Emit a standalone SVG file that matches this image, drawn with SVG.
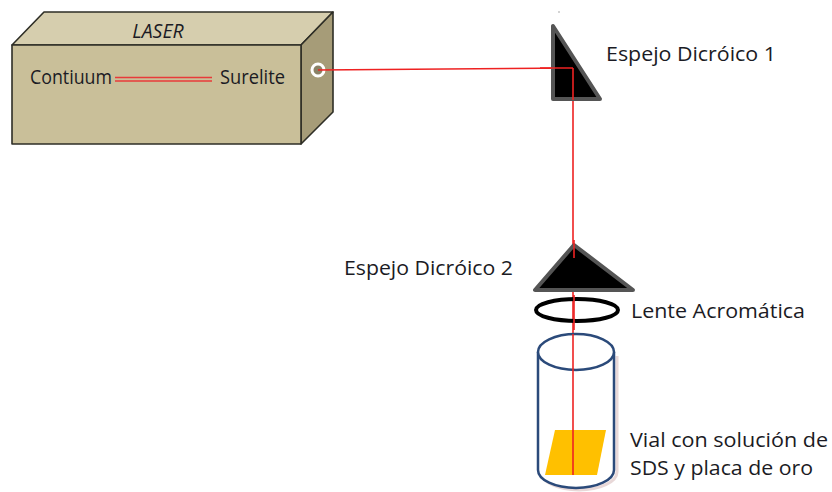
<svg xmlns="http://www.w3.org/2000/svg" width="832" height="492" viewBox="0 0 832 492">
  <style>
    .lbl { font-family: "Open Sans", "Liberation Sans", sans-serif; font-size: 19.5px; fill: #1b1b24; }
    .box { stroke: #2e2e26; stroke-width: 1.6; stroke-linejoin: round; }
    .mirror { fill: #000; stroke: #555; stroke-width: 4; stroke-linejoin: round; }
    .beam { stroke: #ee2222; stroke-width: 1.6; fill: none; }
  </style>
  <rect width="832" height="492" fill="#fff"/>

  <!-- laser head -->
  <g id="laser">
    <polygon class="box" points="12,45 44,12 333,12 301,45" fill="#D6CEAE"/>
    <polygon class="box" points="301,45 333,12 333,112 301,144" fill="#A69C78"/>
    <rect class="box" x="12" y="45" width="289" height="99" fill="#C9BF99"/>
    <text class="lbl" x="158" y="37.5" text-anchor="middle" font-size="15" font-style="italic">LASER</text>
    <text class="lbl" x="30" y="84" font-size="16.5" textLength="82" lengthAdjust="spacingAndGlyphs">Contiuum</text>
    <text class="lbl" x="220" y="84" font-size="16.5" textLength="65" lengthAdjust="spacingAndGlyphs">Surelite</text>
    <line x1="115" y1="77.5" x2="212" y2="77.5" stroke="#e83a3a" stroke-width="1.6"/>
    <line x1="115" y1="81" x2="212" y2="81" stroke="#e83a3a" stroke-width="1.6"/>
    <circle cx="318" cy="70" r="6" fill="#8a8266" stroke="#fff" stroke-width="3"/>
  </g>

  <!-- beam path -->
  <g id="beams">
    <polyline class="beam" points="318,70 573,68 573,475"/>
  </g>

  <!-- first dichroic mirror -->
  <g id="mirror1">
    <polygon class="mirror" points="553,26 553,99 600,99"/>
    <line class="beam" x1="540" y1="68" x2="573" y2="68"/>
    <line class="beam" x1="573" y1="68" x2="573" y2="100"/>
    <text class="lbl" x="606" y="61" textLength="170" lengthAdjust="spacingAndGlyphs">Espejo Dicróico 1</text>
    <circle cx="559" cy="12" r="0.7" fill="#888"/>
  </g>

  <!-- second dichroic mirror -->
  <g id="mirror2">
    <polygon class="mirror" points="574,245 535,290 633,290"/>
    <line class="beam" x1="574" y1="240" x2="574" y2="258"/>
    <text class="lbl" x="344" y="275" textLength="169" lengthAdjust="spacingAndGlyphs">Espejo Dicróico 2</text>
  </g>

  <!-- achromatic lens -->
  <g id="lens">
    <ellipse cx="577" cy="310" rx="41" ry="11" fill="none" stroke="#000" stroke-width="4"/>
    <line class="beam" x1="574" y1="295" x2="574" y2="330"/>
    <text class="lbl" x="631" y="318" textLength="174" lengthAdjust="spacingAndGlyphs">Lente Acromática</text>
  </g>

  <!-- vial with gold plate -->
  <g id="vial">
    <path d="M539,354 L539,470 A38,18 0 0 0 615,470 L615,354" fill="#fff" stroke="#e8d8d8" stroke-width="3" transform="translate(2,2)"/>
    <path d="M538,352 L538,470 A38,18 0 0 0 614,470 L614,352" fill="#fff" stroke="#2b4a7a" stroke-width="2.5"/>
    <ellipse cx="576" cy="352" rx="38" ry="18" fill="#fff" stroke="#2b4a7a" stroke-width="2.5"/>
    <polygon points="555,430 606,430 597,475 545,475" fill="#FFC000"/>
    <line class="beam" x1="573" y1="334" x2="573" y2="475"/>
    <text class="lbl" x="630" y="447" textLength="198" lengthAdjust="spacingAndGlyphs">Vial con solución de</text>
    <text class="lbl" x="630" y="475" textLength="183" lengthAdjust="spacingAndGlyphs">SDS y placa de oro</text>
  </g>
</svg>
